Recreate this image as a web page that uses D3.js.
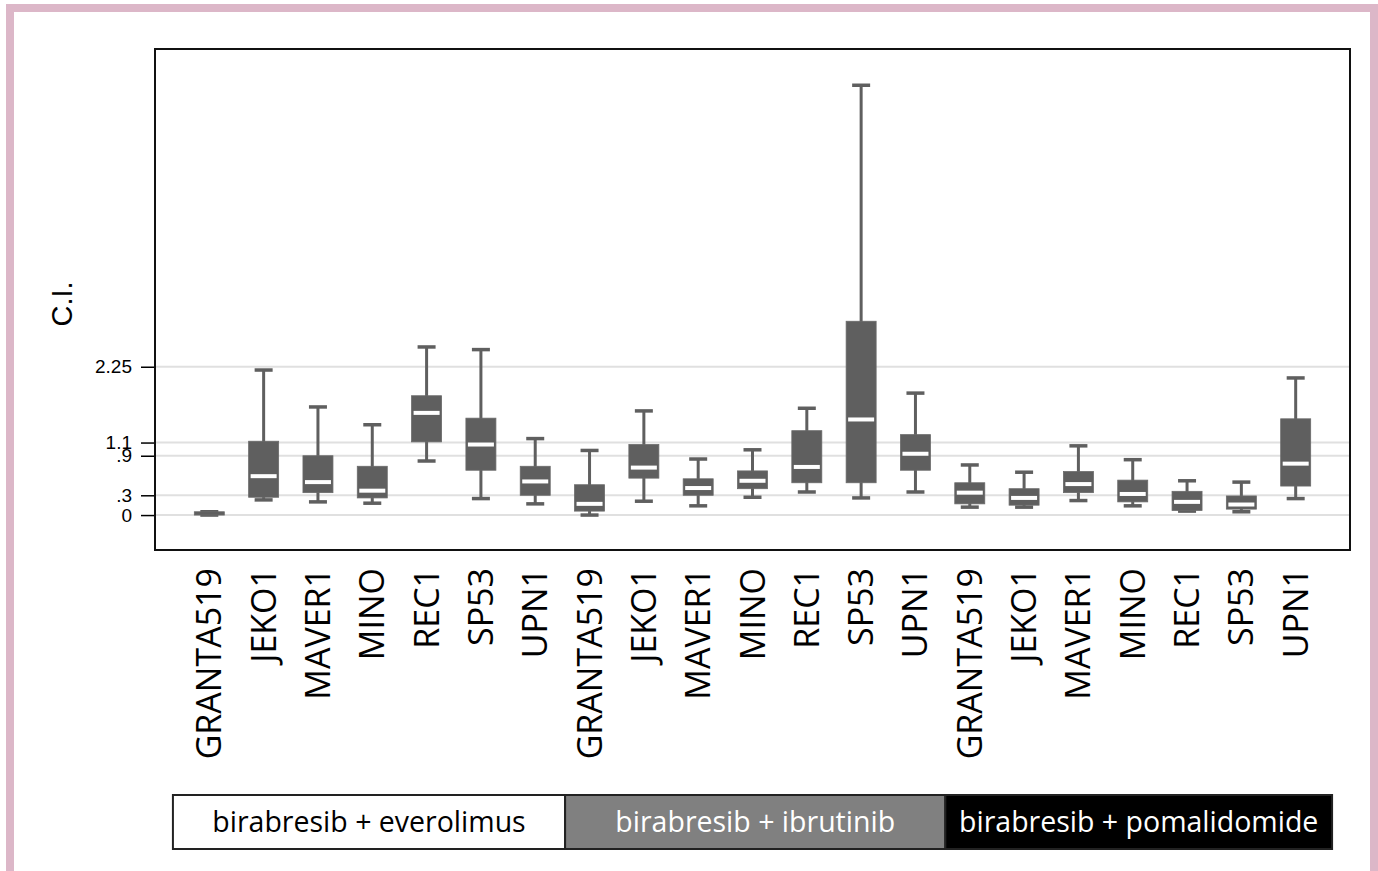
<!DOCTYPE html>
<html>
<head>
<meta charset="utf-8">
<script src="https://cdn.jsdelivr.net/npm/d3@7"></script>
<style>
  html, body { margin: 0; padding: 0; background: #fff; }
  svg { display: block; }
</style>
</head>
<body>
<svg id="chart" width="1378" height="871"></svg>
<script>
// Cell lines, repeated for each drug combination
const cellLines = ["GRANTA519", "JEKO1", "MAVER1", "MINO", "REC1", "SP53", "UPN1"];
const combos = ["birabresib + everolimus", "birabresib + ibrutinib", "birabresib + pomalidomide"];

// Box statistics per cell line: [min, q1, median, q3, max]
const everolimus = [
  [0, 0, 0.02, 0.05, 0.05],
  [0.23, 0.27, 0.59, 1.12, 2.20],
  [0.20, 0.34, 0.50, 0.90, 1.64],
  [0.18, 0.26, 0.37, 0.74, 1.37],
  [0.82, 1.11, 1.55, 1.81, 2.55],
  [0.25, 0.68, 1.07, 1.47, 2.51],
  [0.17, 0.30, 0.51, 0.74, 1.16]
];
const ibrutinib = [
  [0, 0.06, 0.17, 0.46, 0.98],
  [0.21, 0.56, 0.72, 1.07, 1.58],
  [0.14, 0.30, 0.41, 0.55, 0.85],
  [0.27, 0.40, 0.52, 0.67, 0.99],
  [0.35, 0.49, 0.73, 1.28, 1.62],
  [0.26, 0.49, 1.45, 2.94, 6.52],
  [0.35, 0.68, 0.93, 1.22, 1.85]
];
const pomalidomide = [
  [0.12, 0.17, 0.34, 0.49, 0.76],
  [0.12, 0.15, 0.26, 0.40, 0.65],
  [0.22, 0.34, 0.47, 0.66, 1.05],
  [0.14, 0.20, 0.32, 0.53, 0.84],
  [0.06, 0.07, 0.20, 0.36, 0.52],
  [0.05, 0.09, 0.16, 0.29, 0.50],
  [0.25, 0.44, 0.78, 1.46, 2.08]
];

const yTicks = [0, 0.3, 0.9, 1.1, 2.25];
const yTickLabels = ["0", ".3", ".9", "1.1", "2.25"];
const comboFill = ["#ffffff", "#808080", "#000000"];
const comboText = ["#000000", "#ffffff", "#ffffff"];

// Flatten into one row per box
const seriesByCombo = [everolimus, ibrutinib, pomalidomide];
const rows = [];
seriesByCombo.forEach((series, g) => {
  series.forEach((s, i) => {
    rows.push({ key: g + "-" + cellLines[i], label: cellLines[i], group: g,
                min: s[0], q1: s[1], med: s[2], q3: s[3], max: s[4] });
  });
});

const svg = d3.select("#chart");

// Outer pink frame
svg.append("rect")
  .attr("x", 10).attr("y", 8)
  .attr("width", 1364).attr("height", 900)
  .attr("fill", "none")
  .attr("stroke", "#dcb7c8")
  .attr("stroke-width", 8);

const plot = { left: 155, right: 1350, top: 49, bottom: 550 };

const x = d3.scalePoint()
  .domain(rows.map(d => d.key))
  .range([plot.left, plot.right])
  .padding(1);

const y = d3.scaleLinear()
  .domain([-0.53, 7.07])
  .range([plot.bottom, plot.top]);

// Horizontal reference lines
svg.append("g")
  .selectAll("line")
  .data(yTicks)
  .join("line")
  .attr("x1", plot.left).attr("x2", plot.right)
  .attr("y1", d => y(d)).attr("y2", d => y(d))
  .attr("stroke", "#e0e0e0")
  .attr("stroke-width", 2);

// Y axis ticks and labels
const yAxis = d3.axisLeft(y)
  .tickValues(yTicks)
  .tickFormat((d, i) => yTickLabels[i])
  .tickSize(14)
  .tickPadding(9);

const yg = svg.append("g")
  .attr("transform", `translate(${plot.left},0)`)
  .call(yAxis);
yg.select(".domain").remove();
yg.selectAll(".tick line").attr("stroke", "#000").attr("stroke-width", 1.5);
yg.selectAll(".tick text")
  .attr("font-family", "'Liberation Sans', Arial, sans-serif")
  .attr("font-size", 19)
  .attr("fill", "#000");

// Y axis title
svg.append("text")
  .attr("transform", "translate(72,304) rotate(-90)")
  .attr("text-anchor", "middle")
  .attr("font-family", "'Liberation Sans', Arial, sans-serif")
  .attr("font-size", 29)
  .attr("fill", "#000")
  .text("C.I.");

// Box plots
const boxW = 30, capW = 18, medW = 26;
const boxColor = "#5f5f5f";
const boxes = svg.append("g").selectAll("g")
  .data(rows)
  .join("g")
  .attr("transform", d => `translate(${x(d.key)},0)`);

boxes.append("line")
  .attr("x1", 0).attr("x2", 0)
  .attr("y1", d => y(d.max)).attr("y2", d => y(d.min))
  .attr("stroke", boxColor).attr("stroke-width", 3);

boxes.append("line")
  .attr("x1", -capW / 2).attr("x2", capW / 2)
  .attr("y1", d => y(d.max)).attr("y2", d => y(d.max))
  .attr("stroke", boxColor).attr("stroke-width", 3.5);

boxes.append("line")
  .attr("x1", -capW / 2).attr("x2", capW / 2)
  .attr("y1", d => y(d.min)).attr("y2", d => y(d.min))
  .attr("stroke", boxColor).attr("stroke-width", 3.5);

boxes.append("rect")
  .attr("x", -boxW / 2)
  .attr("width", boxW)
  .attr("y", d => y(d.q3))
  .attr("height", d => Math.max(1, y(d.q1) - y(d.q3)))
  .attr("fill", boxColor)
  .attr("stroke", "#6a6a6a")
  .attr("stroke-width", 0.8);

// Median bar, kept inside the box
boxes.append("rect")
  .attr("x", -medW / 2)
  .attr("width", medW)
  .attr("y", d => {
    const h = Math.max(0, Math.min(4, y(d.q1) - y(d.q3) - 4));
    return y(d.med) - h / 2;
  })
  .attr("height", d => Math.max(0, Math.min(4, y(d.q1) - y(d.q3) - 4)))
  .attr("fill", "#ffffff");

// Plot frame
svg.append("rect")
  .attr("x", plot.left).attr("y", plot.top)
  .attr("width", plot.right - plot.left)
  .attr("height", plot.bottom - plot.top)
  .attr("fill", "none")
  .attr("stroke", "#111")
  .attr("stroke-width", 2);

// Category labels, rotated
svg.append("g").selectAll("text")
  .data(rows)
  .join("text")
  .attr("transform", d => `translate(${x(d.key) + 12},568) rotate(-90)`)
  .attr("text-anchor", "end")
  .attr("font-family", "'Open Sans', sans-serif")
  .attr("font-size", 34)
  .attr("fill", "#000")
  .text(d => d.label);

// Drug-combination legend bar
const step = x.step();
const groupEdges = combos.map((c, g) => {
  const members = rows.filter(r => r.group === g);
  const first = x(members[0].key), last = x(members[members.length - 1].key);
  const left = g === 0 ? first - step * 0.67 : first - step * 0.45;
  const right = g === combos.length - 1 ? last + step * 0.67 : last + step * 0.55;
  return { label: c, g, left, right };
});

const legend = svg.append("g");
legend.selectAll("rect")
  .data(groupEdges)
  .join("rect")
  .attr("x", d => d.left).attr("y", 795)
  .attr("width", d => d.right - d.left).attr("height", 54)
  .attr("fill", d => comboFill[d.g])
  .attr("stroke", "#222")
  .attr("stroke-width", 2);

legend.selectAll("text")
  .data(groupEdges)
  .join("text")
  .attr("x", d => (d.left + d.right) / 2)
  .attr("y", 822)
  .attr("dy", "0.35em")
  .attr("text-anchor", "middle")
  .attr("font-family", "'Open Sans', sans-serif")
  .attr("font-size", 28.5)
  .attr("fill", d => comboText[d.g])
  .text(d => d.label);
</script>
</body>
</html>
